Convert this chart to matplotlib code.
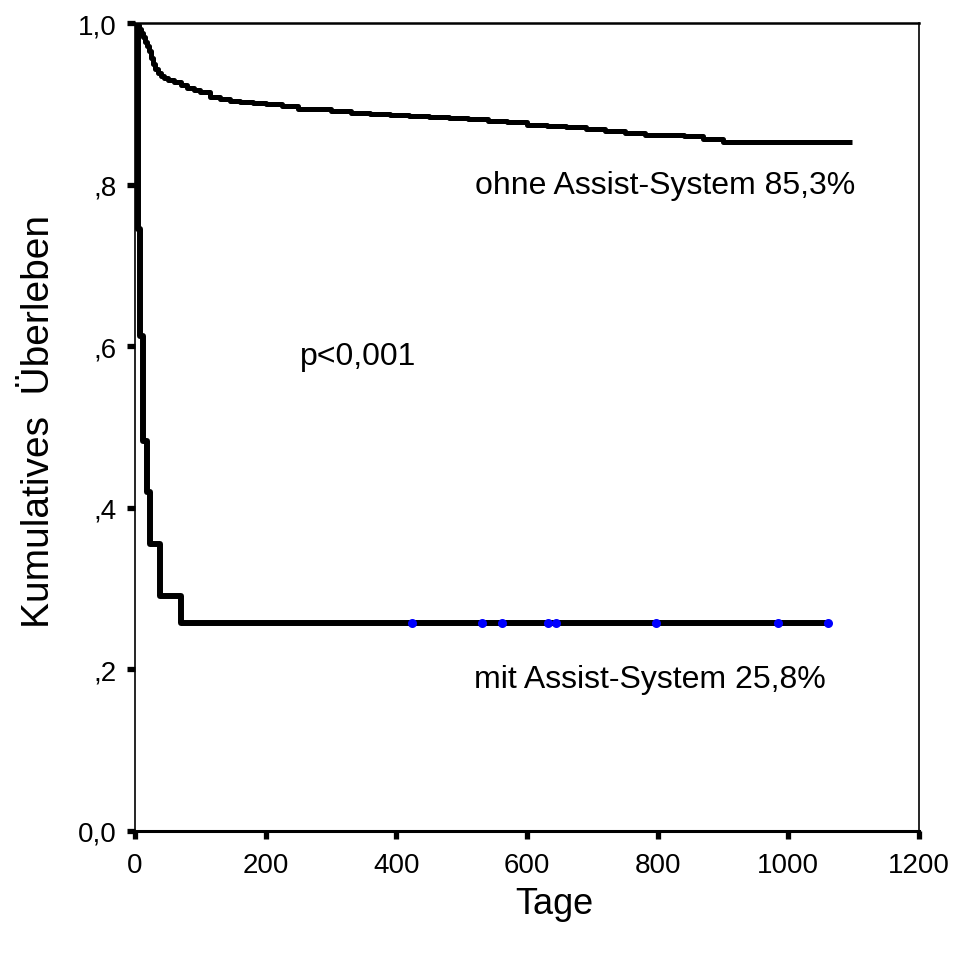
import matplotlib.pyplot as plt

# Kaplan-Meier Kurven, Werte
tage_ohne = [0, 3, 6, 9, 12, 15, 18, 21, 24, 27, 30, 35, 40, 45, 50, 60, 70, 80,
             90, 100, 115, 130, 145, 160, 180, 200, 225, 250, 275, 300, 330, 360,
             390, 420, 450, 480, 510, 540, 570, 600, 630, 660, 690, 720, 750, 780,
             810, 840, 870, 900, 1098]
surv_ohne = [1.0, 0.997, 0.993, 0.988, 0.983, 0.977, 0.971, 0.965, 0.957, 0.949,
             0.943, 0.938, 0.935, 0.932, 0.930, 0.927, 0.923, 0.920, 0.917, 0.914,
             0.909, 0.906, 0.904, 0.902, 0.901, 0.900, 0.897, 0.894, 0.893, 0.891,
             0.888, 0.887, 0.886, 0.885, 0.884, 0.882, 0.881, 0.879, 0.877, 0.874,
             0.872, 0.871, 0.869, 0.866, 0.864, 0.862, 0.861, 0.860, 0.857, 0.853,
             0.853]

tage_mit = [0, 5, 7, 12, 18, 23, 38, 71, 1060]
surv_mit = [1.0, 0.745, 0.613, 0.483, 0.420, 0.355, 0.291, 0.257, 0.257]

zensiert_mit = [424, 531, 562, 632, 644, 797, 984, 1060]
zensiert_mit_wert = [0.257] * len(zensiert_mit)

x_ticks = [0, 200, 400, 600, 800, 1000, 1200]
y_ticks = [0.0, 0.2, 0.4, 0.6, 0.8, 1.0]
y_ticklabels = ['0,0', ',2', ',4', ',6', ',8', '1,0']

plt.rcParams['font.family'] = ['Liberation Sans', 'DejaVu Sans']

fig = plt.figure(figsize=(9.58, 9.78), dpi=100)
ax = fig.add_axes([135 / 958, 1 - 832 / 978, (919 - 135) / 958, (832 - 24) / 978])

ax.plot(tage_ohne, surv_ohne, drawstyle='steps-post', color='black', lw=3.6,
        solid_capstyle='butt', solid_joinstyle='round')
ax.plot(tage_mit, surv_mit, drawstyle='steps-post', color='black', lw=4.3,
        solid_capstyle='butt')
ax.plot(zensiert_mit, zensiert_mit_wert, 'o', color='#0000ff', ms=6.5, mew=0,
        zorder=5, clip_on=False)

ax.set_xlim(0, 1200)
ax.set_ylim(0, 1.0)
ax.set_xticks(x_ticks)
ax.set_xticklabels([str(t) for t in x_ticks], fontsize=20)
ax.set_yticks(y_ticks)
ax.set_yticklabels(y_ticklabels, fontsize=20)
ax.tick_params(axis='both', direction='out', length=6, width=3.8)
ax.tick_params(axis='x', pad=9)
ax.tick_params(axis='y', pad=7)

ax.spines['bottom'].set_linewidth(2.2)
ax.spines['left'].set_linewidth(1.2)
ax.spines['top'].set_linewidth(1.8)
ax.spines['right'].set_linewidth(1.2)

ax.text(520, 0.800, 'ohne Assist-System 85,3%', fontsize=23, va='center')
ax.text(252, 0.588, 'p<0,001', fontsize=23, va='center')
ax.text(519, 0.188, 'mit Assist-System 25,8%', fontsize=23, va='center')

fig.text(39 / 958, 1 - 422 / 978, 'Kumulatives  Überleben', fontsize=28,
         rotation=90, ha='center', va='center')
fig.text(554 / 958, 1 - 905 / 978, 'Tage', fontsize=26, ha='center', va='center')

fig.savefig('out.png', dpi=100, facecolor='white')
